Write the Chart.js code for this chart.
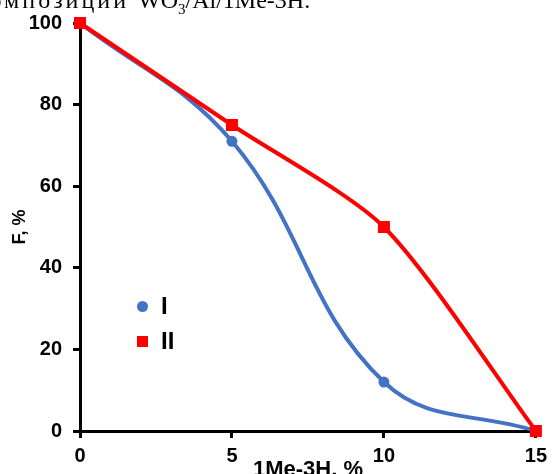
<!DOCTYPE html>
<html>
<head>
<meta charset="utf-8">
<script src="https://cdn.jsdelivr.net/npm/chart.js@4.4.1/dist/chart.umd.min.js"></script>
<style>
  html, body { margin: 0; padding: 0; background: #fff; overflow: hidden; }
  #wrap { position: relative; width: 553px; height: 474px; overflow: hidden; }
  #chart { position: absolute; left: 0; top: 0; }
  .cap { position: absolute; top: -12px; font-family: "Liberation Serif", "Times New Roman", serif; font-size: 24px; line-height: 24px; white-space: nowrap; color: #000; }
  .cap sub { font-size: 15px; }
  .leg { position: absolute; font-family: "Liberation Sans", Arial, sans-serif; font-weight: bold; font-size: 24px; line-height: 24px; color: #000; }
  .dot { position: absolute; width: 11px; height: 11px; border-radius: 50%; background: #4472C4; }
  .sq { position: absolute; width: 11px; height: 11px; background: #FF0000; }
</style>
</head>
<body>
<div id="wrap">
  <canvas id="chart" width="553" height="474"></canvas>
  <span class="cap" style="right:424px; letter-spacing:3px">композиций</span>
  <span class="cap" style="left:138px">WO<sub>3</sub>/Al/1Me-3H.</span>
  <div class="dot" style="left:137px; top:301px"></div>
  <div class="leg" style="left:161px; top:294px">I</div>
  <div class="sq" style="left:137px; top:336px"></div>
  <div class="leg" style="left:161px; top:329px">II</div>
</div>
<script>
// data
var xValues = [0, 5, 10, 15];
var seriesI = [100, 71, 12, 0];
var seriesII = [100, 75, 50, 0];
var xTicks = [0, 5, 10, 15];
var yTicks = [0, 20, 40, 60, 80, 100];

function pairs(ys) {
    var out = [];
    for (var i = 0; i < xValues.length; i++) {
        out.push({ x: xValues[i], y: ys[i] });
    }
    return out;
}

var tickFont = { family: "'Liberation Sans', Arial, sans-serif", size: 20, weight: "bold" };

var ctx = document.getElementById("chart");

var chart = new Chart(ctx, {
    type: "line",
    data: {
        datasets: [
            {
                label: "II",
                data: pairs(seriesII),
                borderColor: "#FF0000",
                backgroundColor: "#FF0000",
                borderWidth: 4,
                pointStyle: "rect",
                pointRadius: 8.5,
                pointBorderWidth: 0,
                tension: 0.25,
                clip: false
            },
            {
                label: "I",
                data: pairs(seriesI),
                borderColor: "#4472C4",
                backgroundColor: "#4472C4",
                borderWidth: 4,
                pointStyle: "circle",
                pointRadius: 5.5,
                pointBorderWidth: 0,
                tension: 0.4,
                clip: false
            }
        ]
    },
    options: {
        responsive: false,
        animation: false,
        layout: { padding: { top: 21, right: 13, bottom: 0, left: 0 } },
        plugins: {
            legend: { display: false },
            tooltip: { enabled: false }
        },
        scales: {
            x: {
                type: "linear",
                min: 0,
                max: 15,
                afterBuildTicks: function(scale) {
                    scale.ticks = xTicks.map(function(v) { return { value: v }; });
                },
                afterFit: function(scale) { scale.height = 43; },
                ticks: { color: "#000", font: tickFont, padding: 6 },
                grid: { drawOnChartArea: false, drawTicks: true, tickLength: 7, tickWidth: 3, tickColor: "#000" },
                border: { display: true, color: "#000", width: 3 },
                title: {
                    display: true,
                    text: "1Me-3H, %",
                    color: "#000",
                    font: { family: "'Liberation Sans', Arial, sans-serif", size: 22, weight: "bold" },
                    padding: { top: 0, bottom: -9 }
                }
            },
            y: {
                min: 0,
                max: 100,
                afterBuildTicks: function(scale) {
                    scale.ticks = yTicks.map(function(v) { return { value: v }; });
                },
                afterFit: function(scale) { scale.width = 80; },
                ticks: { color: "#000", font: tickFont, padding: 11 },
                grid: { drawOnChartArea: false, drawTicks: true, tickLength: 7, tickWidth: 3, tickColor: "#000" },
                border: { display: true, color: "#000", width: 3 },
                title: {
                    display: true,
                    text: "F, %",
                    color: "#000",
                    font: { family: "'Liberation Sans', Arial, sans-serif", size: 18, weight: "bold" },
                    padding: { top: 9, bottom: 0 }
                }
            }
        }
    }
});
</script>
</body>
</html>
